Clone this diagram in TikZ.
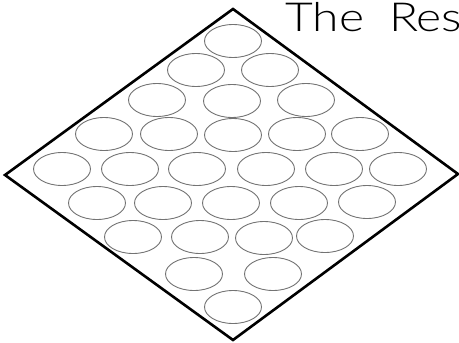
\documentclass[tikz,border=0pt]{standalone}
\usepackage{fontspec}
\usepackage{graphicx}
\setmainfont{Lato Light}
\usetikzlibrary{shapes.geometric}
\begin{document}
\begin{tikzpicture}[x=1pt,y=-1pt,
  spot/.style={draw=black!55,line width=0.9pt,ellipse,minimum width=57pt,minimum height=33pt,inner sep=0pt},
  frame/.style={draw=black,line width=2.6pt,line join=miter},
  title/.style={font=\fontsize{40}{42}\selectfont,inner sep=0pt,anchor=base west}]
\useasboundingbox (0,0) rectangle (459,343);
\fill[white] (0,0) rectangle (459,343);
\coordinate (T) at (233,9);
\coordinate (R) at (458,174);
\coordinate (B) at (233,340);
\coordinate (L) at (5,175);
\draw[frame] (T) -- (R) -- (B) -- (L) -- cycle;
\node[title] (ttl) at (285,31) {\scalebox{1.2}[1]{The\hspace{21pt}Res}};
% row 1
\node[spot] (c11) at (233,41) {};
% row 2
\node[spot] (c21) at (196,70) {};
\node[spot] (c22) at (270,70) {};
% row 3
\node[spot] (c31) at (157,100) {};
\node[spot] (c32) at (232,101) {};
\node[spot] (c33) at (306,100) {};
% row 4
\node[spot] (c41) at (104,134) {};
\node[spot] (c42) at (169,134) {};
\node[spot] (c43) at (233,135) {};
\node[spot] (c44) at (297,134) {};
\node[spot] (c45) at (360,134) {};
% row 5
\node[spot] (c51) at (62,169) {};
\node[spot] (c52) at (130,169) {};
\node[spot] (c53) at (197,169) {};
\node[spot] (c54) at (266,169) {};
\node[spot] (c55) at (334,169) {};
\node[spot] (c56) at (398,169) {};
% row 6
\node[spot] (c61) at (97,203) {};
\node[spot] (c62) at (163,203) {};
\node[spot] (c63) at (231,203) {};
\node[spot] (c64) at (299,203) {};
\node[spot] (c65) at (367,202) {};
% row 7
\node[spot] (c71) at (133,237) {};
\node[spot] (c72) at (200,237) {};
\node[spot] (c73) at (264,238) {};
\node[spot] (c74) at (325,236) {};
% row 8
\node[spot] (c81) at (194,274) {};
\node[spot] (c82) at (273,274) {};
% row 9
\node[spot] (c91) at (233,307) {};
\end{tikzpicture}
\end{document}
